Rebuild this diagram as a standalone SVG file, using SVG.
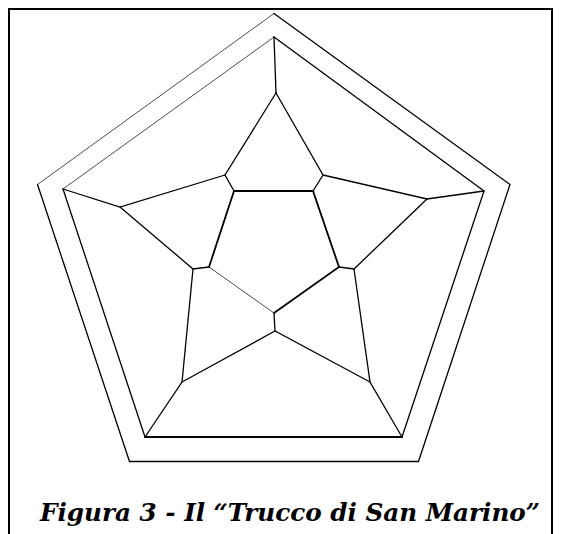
<svg xmlns="http://www.w3.org/2000/svg" width="561" height="534" viewBox="0 0 561 534">
<style>
.l{fill:none;stroke:#000;stroke-width:1.3;stroke-linecap:round;stroke-linejoin:miter}
.t{stroke-width:0.7}
.k{stroke-width:1.8}
.cap{font-family:"DejaVu Serif","Liberation Serif",serif;font-weight:bold;font-style:italic;font-size:25px;fill:#000}
</style>
<rect width="561" height="534" fill="#fff"/>
<path id="frame" d="M9,534 V9 H552 V534" fill="none" stroke="#000" stroke-width="2"/>
<g id="outer-pentagon">
<path class="l t" d="M37.5,184.5 L274,13.5"/>
<path class="l" d="M274,13.5 L510,184.5 L418.5,461.5 L129.5,461.5 L37.5,184.5"/>
</g>
<g id="inner-pentagon">
<path class="l t" d="M63,189 L274,37"/>
<path class="l" d="M274,37 L484,191 L402,437"/>
<path class="l k" d="M402,437 L145,437"/>
<path class="l" d="M145,437 L63,189"/>
</g>
<g id="center-pentagon">
<path class="l k" d="M234,191 L313,191 L339,267 L274,313"/>
<path class="l t" d="M274,313 L209,267"/>
<path class="l k" d="M209,267 L234,191"/>
</g>
<g id="connectors">
<path class="l" d="M274,37 L276,93"/>
<path class="l" d="M276,93 L225,175 L234,191"/>
<path class="l" d="M276,93 L323,175 L313,191"/>
<path class="l" d="M225,175 L120,207 L63,189"/>
<path class="l" d="M323,175 L427,199 L484,191"/>
<path class="l" d="M120,207 L193,269 L209,267"/>
<path class="l" d="M427,199 L354,269 L339,267"/>
<path class="l" d="M193,269 L182,382 L145,437"/>
<path class="l" d="M354,269 L370,382 L402,437"/>
<path class="l" d="M182,382 L275,331 L370,382"/>
<path class="l" d="M275,331 L274,313"/>
</g>
<text class="cap" x="40" y="521" textLength="500" lengthAdjust="spacingAndGlyphs">Figura 3 - Il “Trucco di San Marino”</text>
</svg>
